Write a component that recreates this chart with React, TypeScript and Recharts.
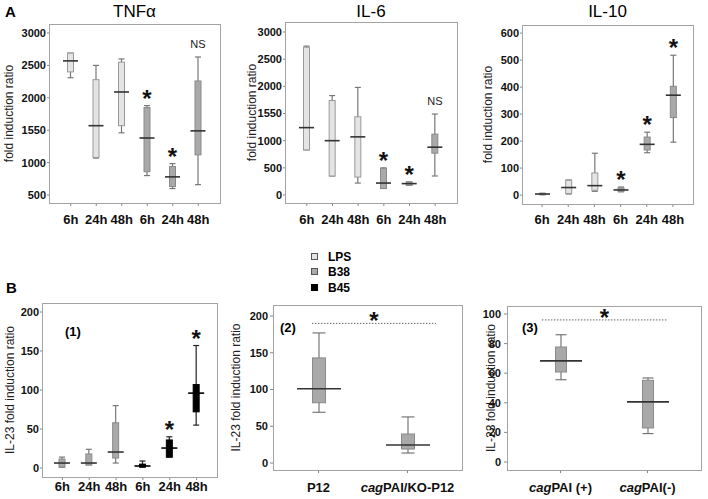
import { Bar, BarChart, ReferenceLine, XAxis, YAxis } from "recharts"

// categories
const hours = ["6h", "24h", "48h", "6h", "24h", "48h"]
const strainsKo = ["P12", "cagPAI/KO-P12"]
const strainsCag = ["cagPAI (+)", "cagPAI(-)"]

const groupsA = ["LPS", "LPS", "LPS", "B38", "B38", "B38"]
const groupsB1 = ["B38", "B38", "B38", "B45", "B45", "B45"]
const groupsB2 = ["B38", "B38"]

// TNFα
const tnfMin = [2310, 1070, 1460, 800, 600, 660]
const tnfQ1 = [2400, 1080, 1570, 860, 630, 1120]
const tnfMed = [2570, 1570, 2090, 1380, 780, 1490]
const tnfQ3 = [2690, 2280, 2550, 1850, 940, 2260]
const tnfMax = [2690, 2500, 2600, 1880, 985, 2630]
const tnfMarks = ["", "", "", "*", "*", "NS"]

// IL-6
const il6Min = [830, 350, 220, 120, 180, 350]
const il6Q1 = [830, 350, 330, 120, 180, 770]
const il6Med = [1240, 1000, 1070, 220, 210, 880]
const il6Q3 = [2720, 1740, 1440, 490, 240, 1120]
const il6Max = [2740, 1830, 1980, 500, 240, 1490]
const il6Marks = ["", "", "", "*", "*", "NS"]

// IL-10
const il10Min = [1, 4, 14, 12, 157, 196]
const il10Q1 = [2, 6, 18, 14, 167, 287]
const il10Med = [4, 28, 35, 19, 188, 370]
const il10Q3 = [6, 55, 82, 27, 215, 403]
const il10Max = [7, 56, 155, 30, 233, 518]
const il10Marks = ["", "", "", "*", "*", "*"]

// IL-23 (1)
const il23aMin = [1, 4, 6.4, 1, 14, 55]
const il23aQ1 = [1.3, 4, 12.8, 1.3, 14, 72]
const il23aMed = [6.4, 6.4, 20.5, 2.6, 25.6, 96]
const il23aQ3 = [11.5, 18, 58, 5, 36, 107]
const il23aMax = [14, 24, 80, 9, 40, 157]
const il23aMarks = ["", "", "", "", "*", "*"]

// IL-23 (2)
const il23bMin = [69, 13.6]
const il23bQ1 = [82, 19]
const il23bMed = [101, 24.5]
const il23bQ3 = [143, 39.5]
const il23bMax = [177, 62.7]
const il23bSig = 190

// IL-23 (3)
const il23cMin = [55.6, 19.2]
const il23cQ1 = [60.8, 23]
const il23cMed = [68.3, 40.6]
const il23cQ3 = [77.7, 55.2]
const il23cMax = [86, 56.8]
const il23cSig = 96

const ticksA = [500, 1000, 1500, 2000, 2500, 3000]
const ticksIl6 = [0, 500, 1000, 1500, 2000, 2500, 3000]
const ticksIl10 = [0, 100, 200, 300, 400, 500, 600]
const ticksIl23 = [0, 50, 100, 150, 200]
const ticksCag = [0, 20, 40, 60, 80, 100]

const FONT = "'Liberation Sans', Arial, sans-serif"
const fills: Record<string, string> = { LPS: "#e4e4e4", B38: "#a9a9a9", B45: "#000000" }
const edges: Record<string, string> = { LPS: "#999999", B38: "#8a8a8a", B45: "#000000" }

const buildRows = (
  cats: string[],
  groups: string[],
  min: number[],
  q1: number[],
  med: number[],
  q3: number[],
  max: number[],
  marks?: string[]
) =>
  cats.map((cat, i) => ({
    cat,
    group: groups[i],
    range: [min[i], max[i]],
    q1: q1[i],
    med: med[i],
    q3: q3[i],
    mark: marks ? marks[i] : "",
  }))

function makeBox(boxW: number) {
  return (props: any) => {
    const { x, y, width, height, payload } = props
    const [lo, hi] = payload.range
    const top = Math.min(y, y + height)
    const h = Math.abs(height)
    const py = (v: number) => (hi === lo ? top : top + ((hi - v) / (hi - lo)) * h)
    const cx = x + width / 2
    const g = payload.group
    const yq3 = py(payload.q3)
    const yq1 = py(payload.q1)
    const ym = py(payload.med)
    const wc = g === "B45" ? "#222" : "#777"
    return (
      <g>
        <line x1={cx} x2={cx} y1={top} y2={top + h} stroke={wc} strokeWidth={1.2} />
        <line x1={cx - boxW / 2} x2={cx + boxW / 2} y1={top} y2={top} stroke={wc} strokeWidth={1.2} />
        <line x1={cx - boxW / 2} x2={cx + boxW / 2} y1={top + h} y2={top + h} stroke={wc} strokeWidth={1.2} />
        <rect
          x={cx - boxW / 2}
          y={yq3}
          width={boxW}
          height={Math.max(yq1 - yq3, 1)}
          fill={fills[g]}
          stroke={edges[g]}
        />
        <line x1={x} x2={x + width} y1={ym} y2={ym} stroke={g === "B45" ? "#000" : "#333"} strokeWidth={1.6} />
        {payload.mark === "*" && (
          <text x={cx} y={top + 1} textAnchor="middle" fontSize={24} fontWeight="bold" fontFamily={FONT} fill="#111">
            *
          </text>
        )}
        {payload.mark === "NS" && (
          <text x={cx} y={top - 9} textAnchor="middle" fontSize={11} fontFamily={FONT} fill="#222">
            NS
          </text>
        )}
      </g>
    )
  }
}

function makeSig(trimL: number, trimR: number) {
  return (props: any) => {
    const a0 = Math.min(props.x1, props.x2)
    const b0 = Math.max(props.x1, props.x2)
    const w = b0 - a0
    const a = a0 + w * trimL
    const b = b0 - w * trimR
    const yy = props.y1
    return (
      <g>
        <line x1={a} x2={b} y1={yy} y2={yy} stroke="#666" strokeDasharray="1.5 1.5" />
        <text x={(a + b) / 2} y={yy + 6} textAnchor="middle" fontSize={24} fontWeight="bold" fontFamily={FONT} fill="#111">
          *
        </text>
      </g>
    )
  }
}

const YLabel = (props: any) => {
  const vb = props.viewBox
  const cx = vb.x + vb.width - props.gap
  const cy = vb.y + vb.height / 2
  return (
    <text
      x={cx}
      y={cy}
      dy="0.35em"
      transform={`rotate(-90 ${cx} ${cy})`}
      textAnchor="middle"
      fontSize={12}
      fontFamily={FONT}
      fill="#222"
    >
      {props.text}
    </text>
  )
}

const XTick = (props: any) => {
  const { x, y, payload, index, rows } = props
  const v = String(rows && rows[index] ? rows[index].cat : payload.value)
  const italic = v.startsWith("cag")
  return (
    <text x={x} y={y} dy="0.71em" textAnchor="middle" fontSize={13} fontWeight="bold" fontFamily={FONT} fill="#111">
      {italic ? (
        <>
          <tspan fontStyle="italic">cag</tspan>
          <tspan>{v.slice(3)}</tspan>
        </>
      ) : (
        v
      )}
    </text>
  )
}

const YW = 55
const MT = 6
const MR = 6
const XH = 34

type PanelProps = {
  frame: number[]
  rows: any[]
  domain: [number, number]
  ticks: number[]
  yLabel: string
  gap: number
  pad: [number, number]
  barSize: number
  boxW: number
  xMargin: number
  yTick: [number, number]
  fmt?: (v: number) => string
  sig?: { y: number; trim: [number, number] }
}

function Panel(p: PanelProps) {
  const [fl, ft, fw, fh] = p.frame
  return (
    <div style={{ position: "absolute", left: fl - YW, top: ft - MT }}>
      <BarChart
        width={fw + YW + MR}
        height={fh + MT + XH}
        data={p.rows}
        margin={{ top: MT, right: MR, left: 0, bottom: 0 }}
      >
        <XAxis
          dataKey="cat"
          height={XH}
          axisLine={false}
          tickLine={{ stroke: "#888" }}
          tickSize={3}
          tickMargin={p.xMargin}
          interval={0}
          padding={{ left: p.pad[0], right: p.pad[1] }}
          tick={<XTick rows={p.rows} />}
        />
        <YAxis
          type="number"
          width={YW}
          domain={p.domain}
          allowDataOverflow
          ticks={p.ticks}
          interval={0}
          axisLine={false}
          tickLine={{ stroke: "#888" }}
          tickSize={p.yTick[0]}
          tickMargin={p.yTick[1]}
          tickFormatter={p.fmt}
          tick={{ fontSize: 11, fontWeight: "bold", fill: "#111", fontFamily: FONT }}
          label={<YLabel text={p.yLabel} gap={p.gap} />}
        />
        {p.sig && <ReferenceLine y={p.sig.y} shape={makeSig(p.sig.trim[0], p.sig.trim[1])} />}
        <Bar dataKey="range" barSize={p.barSize} shape={makeBox(p.boxW)} isAnimationActive={false} />
      </BarChart>
    </div>
  )
}

const fmt1550 = (v: number) => (v === 1500 ? "1550" : String(v))

const frames = {
  tnf: [49, 24, 171, 179],
  il6: [285, 22, 172, 181],
  il10: [522, 25, 171, 179],
  b1: [42, 303, 175, 174],
  b2: [273, 305, 189, 165],
  b3: [507, 306, 194, 164],
}

export default function App() {
  const legend = [
    { name: "LPS", y: 257 },
    { name: "B38", y: 272 },
    { name: "B45", y: 288 },
  ]
  return (
    <div style={{ position: "absolute", left: 0, top: 0, width: 708, height: 499, background: "#fff", overflow: "hidden" }}>
      <Panel
        frame={frames.tnf}
        rows={buildRows(hours, groupsA, tnfMin, tnfQ1, tnfMed, tnfQ3, tnfMax, tnfMarks)}
        domain={[377, 3139]}
        ticks={ticksA}
        fmt={fmt1550}
        yLabel="fold induction ratio"
        gap={40}
        pad={[9, 9]}
        barSize={15}
        boxW={6}
        xMargin={9}
        yTick={[2, 1]}
      />
      <Panel
        frame={frames.il6}
        rows={buildRows(hours, groupsA, il6Min, il6Q1, il6Med, il6Q3, il6Max, il6Marks)}
        domain={[-147, 3184]}
        ticks={ticksIl6}
        fmt={fmt1550}
        yLabel="fold induction ratio"
        gap={33.5}
        pad={[9, 9]}
        barSize={15}
        boxW={6}
        xMargin={9}
        yTick={[2, 1]}
      />
      <Panel
        frame={frames.il10}
        rows={buildRows(hours, groupsA, il10Min, il10Q1, il10Med, il10Q3, il10Max, il10Marks)}
        domain={[-33, 630]}
        ticks={ticksIl10}
        yLabel="fold induction ratio"
        gap={34}
        pad={[7, 7]}
        barSize={15}
        boxW={6}
        xMargin={8}
        yTick={[2, 1]}
      />
      <Panel
        frame={frames.b1}
        rows={buildRows(hours, groupsB1, il23aMin, il23aQ1, il23aMed, il23aQ3, il23aMax, il23aMarks)}
        domain={[-11.5, 211.5]}
        ticks={ticksIl23}
        yLabel="IL-23 fold induction ratio"
        gap={32}
        pad={[7, 7]}
        barSize={16}
        boxW={6}
        xMargin={2}
        yTick={[2, 1]}
      />
      <Panel
        frame={frames.b2}
        rows={buildRows(strainsKo, groupsB2, il23bMin, il23bQ1, il23bMed, il23bQ3, il23bMax)}
        domain={[-9.5, 215]}
        ticks={ticksIl23}
        yLabel="IL-23 fold induction ratio"
        gap={37.5}
        pad={[1, 10]}
        barSize={44}
        boxW={13}
        xMargin={10}
        yTick={[3, 2]}
        sig={{ y: il23bSig, trim: [0.206, 0.138] }}
      />
      <Panel
        frame={frames.b3}
        rows={buildRows(strainsCag, groupsB2, il23cMin, il23cQ1, il23cMed, il23cQ3, il23cMax)}
        domain={[-5.4, 105.4]}
        ticks={ticksCag}
        yLabel="IL-23 fold induction ratio"
        gap={16.5}
        pad={[10, 10]}
        barSize={42}
        boxW={11}
        xMargin={10}
        yTick={[3, 3]}
        sig={{ y: il23cSig, trim: [0.18, 0.175] }}
      />
      <svg width={708} height={499} style={{ position: "absolute", left: 0, top: 0, pointerEvents: "none" }}>
        {Object.values(frames).map((f, i) => (
          <rect key={i} x={f[0] + 0.5} y={f[1] + 0.5} width={f[2]} height={f[3]} fill="none" stroke="#a3a3a3" />
        ))}
        <text x={5} y={17} fontSize={15} fontWeight="bold" fontFamily={FONT}>A</text>
        <text x={6} y={293} fontSize={15} fontWeight="bold" fontFamily={FONT}>B</text>
        <text x={134.5} y={17} textAnchor="middle" fontSize={17} fontFamily={FONT}>TNFα</text>
        <text x={371} y={17} textAnchor="middle" fontSize={17} fontFamily={FONT}>IL-6</text>
        <text x={607.5} y={17} textAnchor="middle" fontSize={17} fontFamily={FONT}>IL-10</text>
        {legend.map((l) => (
          <g key={l.name}>
            <rect x={311.5} y={l.y - 3.5} width={6} height={6} fill={fills[l.name]} stroke={l.name === "B45" ? "#000" : "#555"} />
            <text x={328} y={l.y + 4} fontSize={12} fontWeight="bold" fontFamily={FONT}>{l.name}</text>
          </g>
        ))}
        <text x={65} y={336} fontSize={13} fontWeight="bold" fontFamily={FONT}>(1)</text>
        <text x={280} y={332} fontSize={13} fontWeight="bold" fontFamily={FONT}>(2)</text>
        <text x={522} y={332} fontSize={13} fontWeight="bold" fontFamily={FONT}>(3)</text>
      </svg>
    </div>
  )
}
